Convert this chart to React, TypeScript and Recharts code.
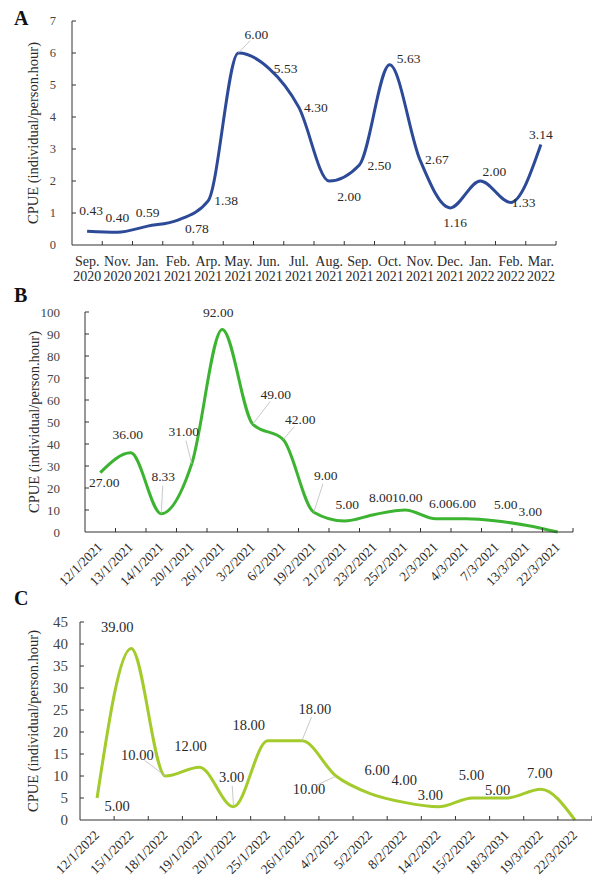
import { LabelList, Line, LineChart, XAxis, YAxis } from 'recharts';

const FONT = "'Liberation Serif', 'Times New Roman', serif";
const INK = '#2a2a2a';

// A: monthly CPUE
const monthsA = ['Sep.', 'Nov.', 'Jan.', 'Feb.', 'Arp.', 'May.', 'Jun.', 'Jul.', 'Aug.', 'Sep.', 'Oct.', 'Nov.', 'Dec.', 'Jan.', 'Feb.', 'Mar.'];
const yearsA = ['2020', '2020', '2021', '2021', '2021', '2021', '2021', '2021', '2021', '2021', '2021', '2021', '2021', '2022', '2022', '2022'];
const cpueA = [0.43, 0.4, 0.59, 0.78, 1.38, 6.0, 5.53, 4.3, 2.0, 2.5, 5.63, 2.67, 1.16, 2.0, 1.33, 3.14];
const yTicksA = [0, 1, 2, 3, 4, 5, 6, 7];

// B: 2021 survey days
const datesB = ['12/1/2021', '13/1/2021', '14/1/2021', '20/1/2021', '26/1/2021', '3/2/2021', '6/2/2021', '19/2/2021', '21/2/2021', '23/2/2021', '25/2/2021', '2/3/2021', '4/3/2021', '7/3/2021', '13/3/2021', '22/3/2021'];
const cpueB = [27, 36, 8.33, 31, 92, 49, 42, 9, 5, 8, 10, 6, 6, 5, 3, 0];
const yTicksB = [0, 10, 20, 30, 40, 50, 60, 70, 80, 90, 100];

// C: 2022 survey days
const datesC = ['12/1/2022', '15/1/2022', '18/1/2022', '19/1/2022', '20/1/2022', '25/1/2022', '26/1/2022', '4/2/2022', '5/2/2022', '8/2/2022', '14/2/2022', '15/2/2022', '18/3/2031', '19/3/2022', '22/3/2022'];
const cpueC = [5, 39, 10, 12, 3, 18, 18, 10, 6, 4, 3, 5, 5, 7, 0];
const yTicksC = [0, 5, 10, 15, 20, 25, 30, 35, 40, 45];

// label placement (px from the point), null = no label
const offsA: ([number, number] | null)[] = [[4, -21], [0, -15], [0, -14], [19, 8], [18, 0], [18, -19], [17, 0], [17, 0], [20, 15], [20, 0], [19, -6], [17, 0], [5, 15], [14, -10], [13, 0], [0, -10]];
const offsB: ([number, number] | null)[] = [[4, 10], [-3, -18], [2, -37], [-8, -32], [-4, -17], [23, -30], [17, -20], [12, -37], [3, -17], [6, -17], [2, -13], [5, -15], [-2, -15], [9, -17], [3, -14], null];
const offsC: ([number, number] | null)[] = [[20, 8], [-14, -21], [-28, -21], [-9, -21], [-2, -30], [-19, -16], [13, -32], [-27, 13], [7, -24], [0, -22], [-8, -12], [-1, -23], [-9, -8], [-1, -16], null];

const half = (n: number) => Array.from({ length: 2 * n + 1 }, (_, k) => k / 2);

const makeLabel = (offs: ([number, number] | null)[], size: number) => (p: any) => {
  const off = offs[p.index];
  if (!off || p.x == null) return null;
  const [dx, dy] = off;
  const d = Math.hypot(dx, dy);
  return (
    <g>
      {d > 26 && (
        <line x1={p.x} y1={p.y} x2={p.x + (dx * (d - 9)) / d} y2={p.y + (dy * (d - 9)) / d} stroke="#bbb" strokeWidth={0.8} />
      )}
      <text x={p.x + dx} y={p.y + dy} textAnchor="middle" dominantBaseline="central" fontSize={size} fill={INK} fontFamily={FONT}>
        {Number(p.value).toFixed(2)}
      </text>
    </g>
  );
};

const yTick = (margin: number, size: number) => (p: any) => {
  const { x, y, payload } = p;
  return (
    <g>
      {payload.value !== 0 && <line x1={x + margin} x2={x + margin + 4} y1={y} y2={y} stroke="#333" />}
      <text x={x} y={y} textAnchor="end" dominantBaseline="central" fontSize={size} fill="#444" fontFamily={FONT}>
        {payload.value}
      </text>
    </g>
  );
};

const TickA = (p: any) => {
  const { x, y, payload } = p;
  const v = payload.value;
  if (Number.isInteger(v)) return v === 0 ? null : <line x1={x} x2={x} y1={y} y2={y - 4} stroke="#333" />;
  const i = Math.floor(v);
  return (
    <text x={x} y={y} textAnchor="middle" fontSize={14} fill={INK} fontFamily={FONT}>
      <tspan x={x} dy={21}>{monthsA[i]}</tspan>
      <tspan x={x} dy={15}>{yearsA[i]}</tspan>
    </text>
  );
};

const rotTick = (labels: string[], size: number) => (p: any) => {
  const { x, y, payload } = p;
  const v = payload.value;
  if (Number.isInteger(v)) return v === 0 ? null : <line x1={x} x2={x} y1={y} y2={y - 4} stroke="#333" />;
  const i = Math.floor(v);
  const ax = x + 3;
  const ay = y + 16;
  return (
    <text x={ax} y={ay} textAnchor="end" transform={`rotate(-45, ${ax}, ${ay})`} fontSize={size} fill={INK} fontFamily={FONT}>
      {labels[i]}
    </text>
  );
};

const yLabel = (dx: number) => ({
  value: 'CPUE (individual/person.hour)',
  angle: -90,
  position: 'center' as const,
  dx,
  fontSize: 14.5,
  fill: INK,
  fontFamily: FONT,
});

const Letter = ({ ch, top }: { ch: string; top: number }) => (
  <div style={{ position: 'absolute', left: 14, top, fontFamily: FONT, fontWeight: 700, fontSize: 20, color: '#111', lineHeight: '20px' }}>{ch}</div>
);

export default function App() {
  const dataA = cpueA.map((v, i) => ({ pos: i + 0.5, v }));
  const dataB = cpueB.map((v, i) => ({ pos: i + 0.5, v }));
  const dataC = cpueC.map((v, i) => ({ pos: i + 0.5, v }));

  return (
    <div style={{ position: 'absolute', left: 0, top: 0, width: 592, height: 885, background: '#fff', overflow: 'hidden' }}>
      <Letter ch="A" top={8} />
      <Letter ch="B" top={285} />
      <Letter ch="C" top={588} />

      <div style={{ position: 'absolute', left: 0, top: 0 }}>
        <LineChart width={592} height={290} data={dataA} margin={{ top: 21, right: 36, bottom: 0, left: 0 }}>
          <XAxis type="number" dataKey="pos" domain={[0, 16]} ticks={half(16)} interval={0} height={45} tickLine={false} tickSize={0} tickMargin={0} axisLine={{ stroke: '#333' }} tick={TickA} />
          <YAxis type="number" domain={[0, 7]} ticks={yTicksA} interval={0} width={72} tickLine={false} tickSize={0} tickMargin={16} axisLine={{ stroke: '#333' }} tick={yTick(16, 12.5)} label={yLabel(-3)} />
          <Line type="monotone" dataKey="v" stroke="#2c4a97" strokeWidth={3} dot={false} isAnimationActive={false}>
            <LabelList dataKey="v" content={makeLabel(offsA, 13.5)} />
          </Line>
        </LineChart>
      </div>

      <div style={{ position: 'absolute', left: 0, top: 290 }}>
        <LineChart width={592} height={302} data={dataB} margin={{ top: 22, right: 19, bottom: 0, left: 0 }}>
          <XAxis type="number" dataKey="pos" domain={[0, 16]} ticks={half(16)} interval={0} height={60} tickLine={false} tickSize={0} tickMargin={0} axisLine={{ stroke: '#333' }} tick={rotTick(datesB, 13.5)} />
          <YAxis type="number" domain={[0, 100]} ticks={yTicksB} interval={0} width={85} tickLine={false} tickSize={0} tickMargin={25} axisLine={{ stroke: '#333' }} tick={yTick(25, 13)} label={yLabel(-9)} />
          <Line type="monotone" dataKey="v" stroke="#3cb431" strokeWidth={3} dot={false} isAnimationActive={false}>
            <LabelList dataKey="v" content={makeLabel(offsB, 13.5)} />
          </Line>
        </LineChart>
      </div>

      <div style={{ position: 'absolute', left: 0, top: 580 }}>
        <LineChart width={592} height={305} data={dataC} margin={{ top: 42, right: 0, bottom: 0, left: 0 }}>
          <XAxis type="number" dataKey="pos" domain={[0, 15]} ticks={half(15)} interval={0} height={65} tickLine={false} tickSize={0} tickMargin={0} axisLine={{ stroke: '#333' }} tick={rotTick(datesC, 13.5)} />
          <YAxis type="number" domain={[0, 45]} ticks={yTicksC} interval={0} width={80} tickLine={false} tickSize={0} tickMargin={12} axisLine={{ stroke: '#333' }} tick={yTick(12, 15)} label={yLabel(-7)} />
          <Line type="monotone" dataKey="v" stroke="#a3cb2b" strokeWidth={3} dot={false} isAnimationActive={false}>
            <LabelList dataKey="v" content={makeLabel(offsC, 14.5)} />
          </Line>
        </LineChart>
      </div>
    </div>
  );
}
